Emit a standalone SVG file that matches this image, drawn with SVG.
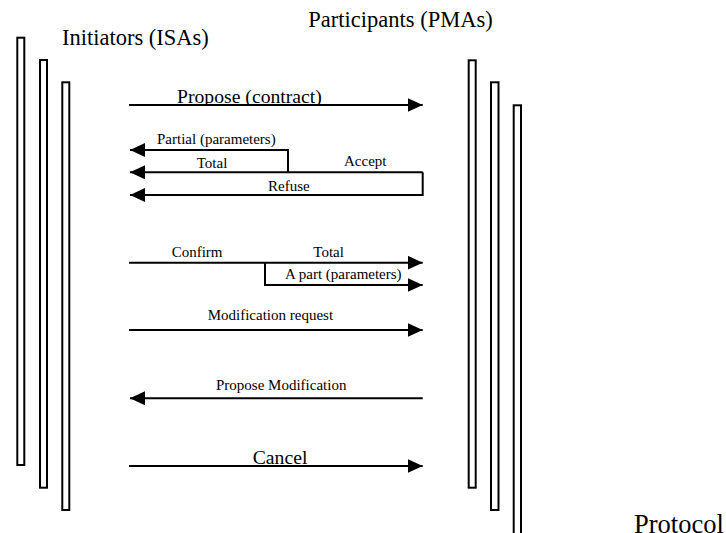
<svg xmlns="http://www.w3.org/2000/svg" width="726" height="533" viewBox="0 0 726 533">
  <style>
    text { font-family: "Liberation Serif", "Times New Roman", serif; fill: #000; }
    .title { font-size: 22.5px; }
    .big { font-size: 19.7px; }
    .lbl { font-size: 15px; }
    .bar { fill: #fff; stroke: #000; stroke-width: 2; }
    .msg { fill: none; stroke: #000; stroke-width: 2; stroke-linejoin: miter; }
    .arr { marker-end: url(#head); }
  </style>
  <defs>
    <marker id="head" viewBox="0 0 15 14" refX="15" refY="7" markerWidth="15" markerHeight="14" markerUnits="userSpaceOnUse" orient="auto">
      <path d="M0,0 L15,7 L0,14 z" fill="#000"/>
    </marker>
    <!-- labels that sit on their arrow are cut at the line -->
    <clipPath id="cutPropose"><rect x="150" y="80" width="200" height="24"/></clipPath>
  </defs>
  <rect width="726" height="533" fill="#fff"/>

  <!-- initiator lifelines -->
  <g id="initiators">
    <rect class="bar" x="17.3" y="37.7" width="7" height="427.3"/>
    <rect class="bar" x="40" y="60" width="7" height="427.7"/>
    <rect class="bar" x="62.3" y="82.3" width="7" height="427.7"/>
    <text class="title" x="62" y="45">Initiators (ISAs)</text>
  </g>

  <!-- participant lifelines -->
  <g id="participants">
    <rect class="bar" x="468.7" y="60.3" width="7" height="427.4"/>
    <rect class="bar" x="491" y="82.3" width="7.5" height="427.7"/>
    <rect class="bar" x="513.7" y="105.3" width="7.3" height="440"/>
    <text class="title" x="308.3" y="26.7">Participants (PMAs)</text>
  </g>

  <g id="caption">
    <text x="634" y="532.5" style="font-size:26.5px">Protocol</text>
  </g>

  <!-- messages -->
  <g id="connectors">
    <path class="msg arr" d="M129,105 H422.7"/>
    <path class="msg arr" d="M288,172.3 V150 H130"/>
    <path class="msg arr" d="M422.7,172.3 H130"/>
    <path class="msg arr" d="M422.7,172.3 V195 H130"/>
    <path class="msg arr" d="M129,262.7 H422.7"/>
    <path class="msg arr" d="M265,262.7 V285 H422.7"/>
    <path class="msg arr" d="M129,330 H422.7"/>
    <path class="msg arr" d="M422.7,398.3 H130"/>
    <path class="msg arr" d="M129,466 H422.7"/>
  </g>

  <g id="labels">
    <text class="big" x="177" y="103.3" clip-path="url(#cutPropose)">Propose (contract)</text>
    <text class="lbl" x="157" y="144">Partial (parameters)</text>
    <text class="lbl" x="196.7" y="168.3">Total</text>
    <text class="lbl" x="344" y="165.7">Accept</text>
    <text class="lbl" x="268" y="191">Refuse</text>
    <text class="lbl" x="171.7" y="257.3">Confirm</text>
    <text class="lbl" x="313.3" y="256.7">Total</text>
    <text class="lbl" x="285" y="279.3">A part (parameters)</text>
    <text class="lbl" x="207.7" y="320">Modification request</text>
    <text class="lbl" x="216" y="390">Propose Modification</text>
    <text class="big" x="252.7" y="464">Cancel</text>
  </g>
</svg>
